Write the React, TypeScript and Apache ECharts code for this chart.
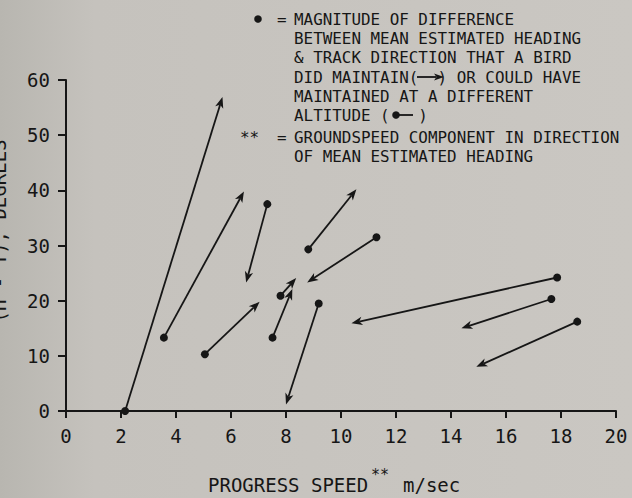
import React, { useEffect, useRef } from "react";
import * as echarts from "echarts";

const FONT = "'DejaVu Sans Mono', monospace";
const INK = "#161616";

// Arrow data: start point (dot) -> end point (arrow tip)
const startX = [2.15, 3.56, 5.05, 7.32, 7.51, 7.8, 8.81, 9.19, 11.29, 17.86, 17.65, 18.59];
const startY = [0, 13.3, 10.3, 37.5, 13.3, 20.9, 29.3, 19.5, 31.5, 24.2, 20.3, 16.2];
const endX = [5.69, 6.47, 7.04, 6.55, 8.23, 8.37, 10.56, 8.0, 8.77, 10.38, 14.38, 14.92];
const endY = [56.9, 39.8, 19.8, 23.3, 22.1, 24.1, 40.2, 1.2, 23.3, 15.9, 15.0, 8.0];

const xMin = 0, xMax = 20, xStep = 2;
const yMin = 0, yMax = 60, yStep = 10;

const xTitleMain = "PROGRESS SPEED";
const xTitleSup = "**";
const xTitleUnit = "m/sec";
const yTitle = "(H - T), DEGREES";

const legendLines = [
  "MAGNITUDE OF DIFFERENCE",
  "BETWEEN MEAN ESTIMATED HEADING",
  "& TRACK DIRECTION THAT A BIRD",
  "DID MAINTAIN(  ) OR COULD HAVE",
  "MAINTAINED AT A DIFFERENT",
  "ALTITUDE (   )",
  "GROUNDSPEED COMPONENT IN DIRECTION",
  "OF MEAN ESTIMATED HEADING",
];
const legendY = [19, 38.5, 57.5, 77, 96, 115, 137, 156];

export default function App() {
  const ref = useRef<HTMLDivElement>(null);
  useEffect(() => {
    if (!ref.current) return;
    const chart = echarts.init(ref.current, null, { renderer: "svg" });
    const data = startX.map((x, i) => [x, startY[i], endX[i], endY[i]]);
    const textStyle = { font: `15.9px ${FONT}`, fill: INK, textVerticalAlign: "middle" };
    const graphics: any[] = [];
    legendLines.forEach((t, i) => {
      graphics.push({ type: "text", x: 294, y: legendY[i], style: { ...textStyle, text: t, textAlign: "left" } });
    });
    graphics.push({ type: "text", x: 277, y: legendY[0], style: { ...textStyle, text: "=", textAlign: "left" } });
    graphics.push({ type: "text", x: 277, y: legendY[6], style: { ...textStyle, text: "=", textAlign: "left" } });
    graphics.push({ type: "text", x: 240, y: legendY[6], style: { ...textStyle, text: "**", textAlign: "left" } });
    graphics.push({ type: "circle", shape: { cx: 258, cy: legendY[0], r: 3.8 }, style: { fill: INK } });
    // inline arrow (did maintain)
    graphics.push({ type: "line", shape: { x1: 417, y1: legendY[3], x2: 436, y2: legendY[3] }, style: { stroke: INK, lineWidth: 1.8 } });
    graphics.push({ type: "polygon", shape: { points: [[444, legendY[3]], [434, legendY[3] - 3.5], [436.5, legendY[3]], [434, legendY[3] + 3.5]] }, style: { fill: INK } });
    // inline dot-line (could have maintained)
    graphics.push({ type: "circle", shape: { cx: 396, cy: legendY[5], r: 3.8 }, style: { fill: INK } });
    graphics.push({ type: "line", shape: { x1: 396, y1: legendY[5], x2: 413, y2: legendY[5] }, style: { stroke: INK, lineWidth: 1.8 } });
    // x axis title
    graphics.push({ type: "text", x: 208, y: 485, style: { text: xTitleMain, font: `19px ${FONT}`, fill: INK, textAlign: "left", textVerticalAlign: "middle" } });
    graphics.push({ type: "text", x: 371, y: 475, style: { text: xTitleSup, font: `15px ${FONT}`, fill: INK, textAlign: "left", textVerticalAlign: "middle" } });
    graphics.push({ type: "text", x: 403, y: 485, style: { text: xTitleUnit, font: `19px ${FONT}`, fill: INK, textAlign: "left", textVerticalAlign: "middle" } });
    // y axis title (cut off at the page edge, as in the original scan)
    graphics.push({
      type: "text", x: 8, y: 231, rotation: Math.PI / 2,
      style: { text: yTitle, font: `19px ${FONT}`, fill: INK, textAlign: "center", textVerticalAlign: "bottom" },
    });

    chart.setOption({
      animation: false,
      backgroundColor: {
        type: "linear", x: 0, y: 0, x2: 1, y2: 0,
        colorStops: [
          { offset: 0, color: "#b8b6b0" },
          { offset: 0.15, color: "#c5c2bd" },
          { offset: 1, color: "#cac7c2" },
        ],
      },
      grid: { left: 66, right: 16, top: 80, bottom: 87, containLabel: false, outerBoundsMode: "none" },
      xAxis: {
        type: "value", min: xMin, max: xMax, interval: xStep,
        axisLine: { show: true, onZero: true, lineStyle: { color: INK, width: 2 } },
        axisTick: { show: true, length: 7, lineStyle: { color: INK, width: 2 } },
        splitLine: { show: false },
        axisLabel: { fontFamily: FONT, fontSize: 19, color: INK, margin: 15 },
      },
      yAxis: {
        type: "value", min: yMin, max: yMax, interval: yStep,
        axisLine: { show: true, onZero: true, lineStyle: { color: INK, width: 2 } },
        axisTick: { show: true, length: 8, lineStyle: { color: INK, width: 2 } },
        splitLine: { show: false },
        axisLabel: { fontFamily: FONT, fontSize: 19, color: INK, margin: 16 },
      },
      graphic: graphics,
      series: [
        {
          type: "custom",
          coordinateSystem: "cartesian2d",
          encode: { x: [0, 2], y: [1, 3] },
          data,
          clip: false,
          renderItem: (params: any, api: any) => {
            const s = api.coord([api.value(0), api.value(1)]);
            const e = api.coord([api.value(2), api.value(3)]);
            const dx = e[0] - s[0], dy = e[1] - s[1];
            const len = Math.sqrt(dx * dx + dy * dy) || 1;
            const ux = dx / len, uy = dy / len;
            const px = -uy, py = ux;
            const L = 11, W = 4.2, N = 8;
            const bx = e[0] - ux * L, by = e[1] - uy * L;
            const nx = e[0] - ux * N, ny = e[1] - uy * N;
            return {
              type: "group",
              children: [
                { type: "line", shape: { x1: s[0], y1: s[1], x2: nx, y2: ny }, style: { stroke: INK, lineWidth: 1.8 } },
                {
                  type: "polygon",
                  shape: { points: [[e[0], e[1]], [bx + px * W, by + py * W], [nx, ny], [bx - px * W, by - py * W]] },
                  style: { fill: INK },
                },
                { type: "circle", shape: { cx: s[0], cy: s[1], r: 4 }, style: { fill: INK } },
              ],
            };
          },
        },
      ],
    });
    return () => chart.dispose();
  }, []);
  return <div ref={ref} style={{ position: "absolute", left: 0, top: 0, width: 632, height: 498 }} />;
}
